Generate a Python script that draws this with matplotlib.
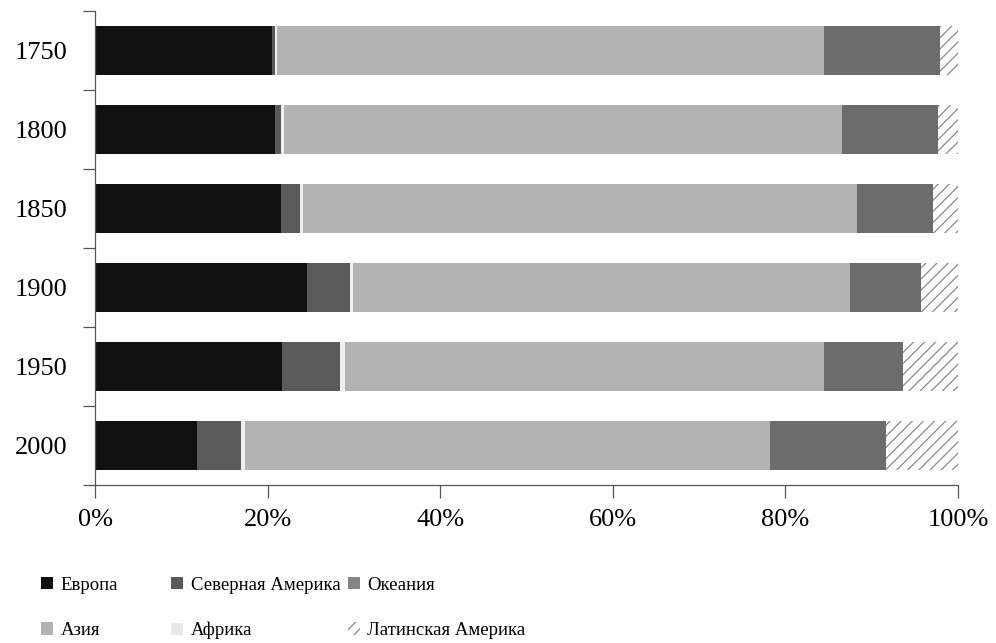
import numpy as np
import matplotlib
matplotlib.use("Agg")
import matplotlib.pyplot as plt
from matplotlib.patches import Patch

plt.rcParams['font.family'] = ['Liberation Serif', 'DejaVu Serif']
plt.rcParams['hatch.linewidth'] = 0.9

years = ["1750", "1800", "1850", "1900", "1950", "2000"]
regions = ["Европа", "Северная Америка", "Океания", "Азия", "Африка", "Латинская Америка"]

# shares of world population, %
europe = [20.5, 20.9, 21.6, 24.6, 21.7, 11.8]
n_america = [0.3, 0.7, 2.2, 4.9, 6.7, 5.1]
oceania = [0.3, 0.3, 0.3, 0.4, 0.6, 0.5]
asia = [63.4, 64.7, 64.2, 57.6, 55.5, 60.8]
africa = [13.4, 11.1, 8.8, 8.2, 9.1, 13.5]
lat_america = [2.1, 2.3, 2.9, 4.3, 6.4, 8.3]

series = [europe, n_america, oceania, asia, africa, lat_america]
bar_colors = ["#111111", "#5a5a5a", "#efefef", "#b3b3b3", "#6c6c6c", "white"]
hatches = [None, None, None, None, None, "///"]

legend_colors = ["#111111", "#5a5a5a", "#858585", "#b3b3b3", "#e8e8e8", "white"]

fig = plt.figure(figsize=(9.96, 6.43), dpi=100)
ax = fig.add_axes([0.0954, 0.2457, 0.8664, 0.7373])

y = np.arange(len(years))
left = np.zeros(len(years))
for vals, col, h in zip(series, bar_colors, hatches):
    vals = np.array(vals)
    if h:
        ax.barh(y, vals, left=left, height=0.63, color=col, edgecolor="#8a8a8a",
                hatch=h, linewidth=0)
    else:
        ax.barh(y, vals, left=left, height=0.63, color=col, linewidth=0)
    left += vals

ax.set_xlim(0, 100)
ax.set_ylim(5.5, -0.5)
ax.set_xticks([0, 20, 40, 60, 80, 100])
ax.set_xticklabels([f"{v}%" for v in [0, 20, 40, 60, 80, 100]], fontsize=19)
ax.set_yticks(np.arange(-0.5, 6, 1))
ax.set_yticklabels([])
ax.set_yticks(y, minor=True)
ax.set_yticklabels(years, minor=True, fontsize=19)
ax.tick_params(axis="y", which="minor", length=0, pad=20)
ax.tick_params(axis="both", which="major", length=9, width=0.9, color="#555555")
ax.tick_params(axis="x", pad=8)
for s in ["top", "right"]:
    ax.spines[s].set_visible(False)
for s in ["left", "bottom"]:
    ax.spines[s].set_color("#555555")
    ax.spines[s].set_linewidth(0.9)

# legend, three fixed columns
cols = [(0, 3), (1, 4), (2, 5)]
col_x = [0.041, 0.172, 0.349]
for (a, b), x0 in zip(cols, col_x):
    handles = []
    for i in (a, b):
        handles.append(Patch(facecolor=legend_colors[i],
                             edgecolor="#8a8a8a" if hatches[i] else legend_colors[i],
                             hatch=hatches[i], linewidth=0, label=regions[i]))
    fig.legend(handles=handles, loc="upper left", bbox_to_anchor=(x0, 0.103),
               frameon=False, fontsize=13.5, handlelength=0.65, handleheight=0.65,
               handletextpad=0.4, labelspacing=1.5, borderpad=0, borderaxespad=0)

fig.savefig("out.png", dpi=100)
